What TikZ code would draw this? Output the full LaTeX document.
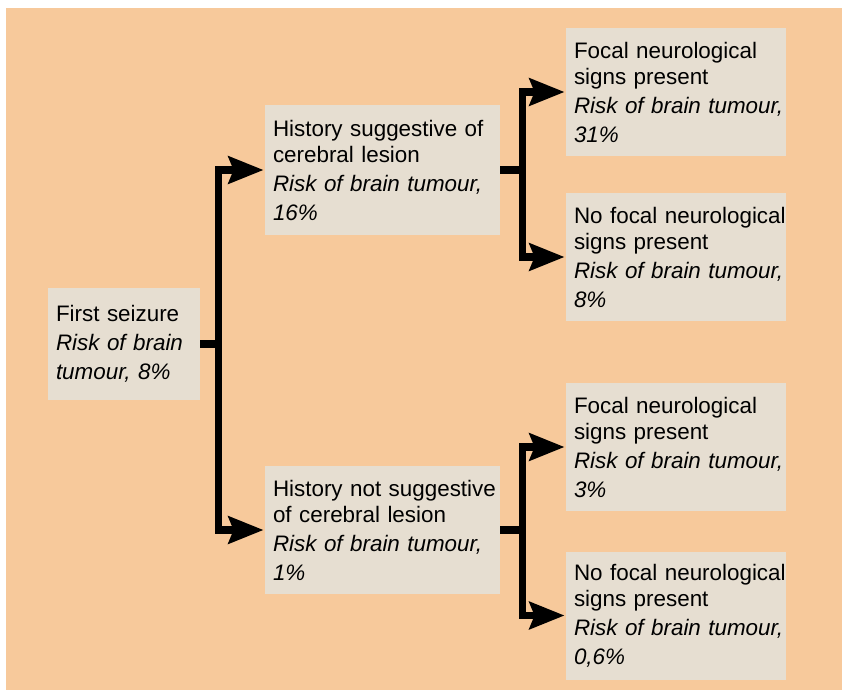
\documentclass[tikz,border=0pt]{standalone}
\usepackage{fontspec}
\setmainfont{Liberation Sans}
\usepackage{tikz}
\usetikzlibrary{arrows.meta}
\definecolor{peach}{RGB}{247,201,155}
\definecolor{boxgrey}{RGB}{230,222,209}
\newcommand{\boxfont}{\fontsize{11.2}{13.2}\selectfont}
\newcommand{\risktext}[2]{\hyphenpenalty=10000\relax
  #1\par{\itshape\fontsize{11.2}{14.4}\selectfont #2\par}}

\begin{document}
\begin{tikzpicture}[
  x = 0.5pt, y = -0.5pt,
  every node/.style = {fill=boxgrey, align=left, inner xsep=4pt, inner ysep=0pt,
    font=\boxfont},
  riskbox/.style 2 args = {text width=#1, minimum height=#2},
  link/.style = {line width=3.7pt},
  branch/.style = {link, -{Stealth[length=17.5pt, width=13.5pt, inset=2.5pt]}, shorten >=0.5pt}
]
\useasboundingbox (0,0) rectangle (842,691);
\fill[peach] (6,8) rectangle (842,690);

\node[riskbox={68pt}{56pt}] (seiz) at (124,344)
    {\risktext{First seizure}{Risk of brain\\tumour, 8\%}};
\node[riskbox={109.5pt}{65pt}] (hsug) at (382.5,170)
    {\risktext{History suggestive of\\cerebral lesion}{Risk~of~brain~tumour,\\16\%}};
\node[riskbox={109.5pt}{64pt}] (hnot) at (382.5,530)
    {\risktext{History~not~suggestive\\of cerebral lesion}{Risk~of~brain~tumour,\\1\%}};
\node[riskbox={102pt}{64pt}] (sug1) at (676,92)
    {\risktext{Focal neurological\\signs present}{Risk~of~brain~tumour,\\31\%}};
\node[riskbox={102pt}{64pt}] (sug2) at (676,257)
    {\risktext{No~focal~neurological\\signs present}{Risk~of~brain~tumour,\\8\%}};
\node[riskbox={102pt}{64pt}] (not1) at (676,447)
    {\risktext{Focal neurological\\signs present}{Risk~of~brain~tumour,\\3\%}};
\node[riskbox={102pt}{64pt}] (not2) at (676,615.5)
    {\risktext{No~focal~neurological\\signs present}{Risk~of~brain~tumour,\\0,6\%}};

% first split
\draw[link] (seiz.east) -- ++(18,0) coordinate (jl);
\draw[branch] (jl) |- (hsug.west);
\draw[branch] (jl) |- (hnot.west);

% second splits
\draw[link] (hsug.east) -- ++(22,0) coordinate (ju);
\draw[branch] (ju) |- (sug1.west);
\draw[branch] (ju) |- (sug2.west);
\draw[link] (hnot.east) -- ++(22,0) coordinate (jd);
\draw[branch] (jd) |- (not1.west);
\draw[branch] (jd) |- (not2.west);
\end{tikzpicture}
\end{document}
